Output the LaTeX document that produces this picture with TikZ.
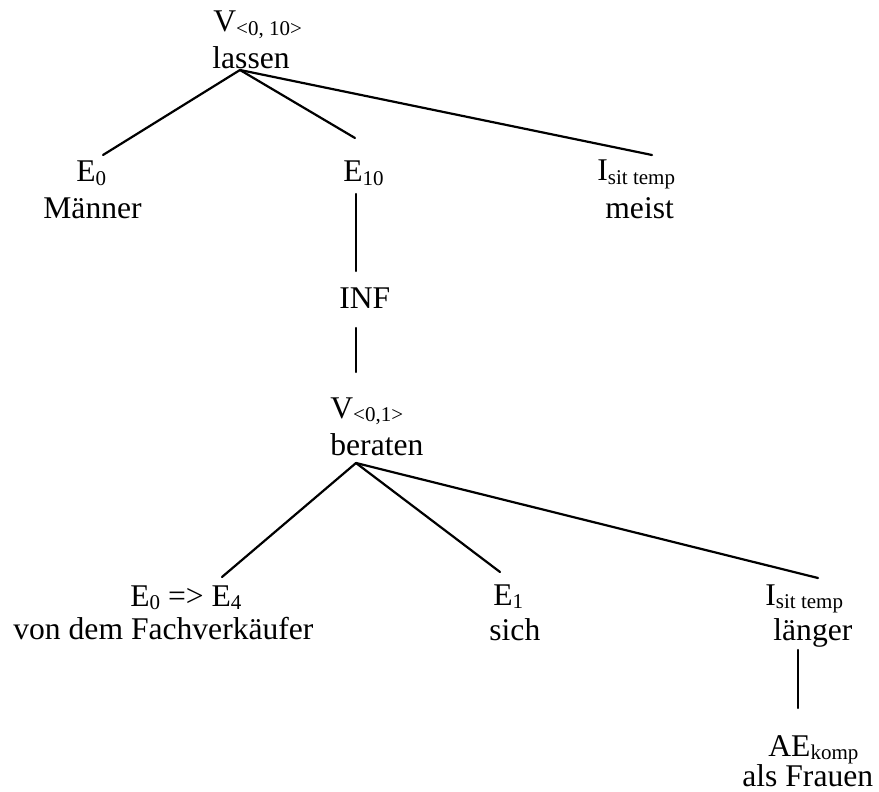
\documentclass[tikz,border=0pt]{standalone}
\usepackage{fontspec}
\setmainfont{Liberation Serif}
% lowered, smaller index text
\newcommand\lo[1]{\raisebox{-0.1em}{\fontsize{10.5}{12}\selectfont #1}}
\begin{document}
\begin{tikzpicture}[x=0.5pt,y=-0.5pt,
  lbl/.style={anchor=base west,inner sep=0pt,font=\fontsize{15.8}{19}\selectfont},
  edge/.style={line width=1.1pt,line cap=round}]
\useasboundingbox (0,0) rectangle (879,792);

% top verb
\node[lbl] (v1)      at (213,32)  {V\lo{<0, 10>}};
\node[lbl] (lassen)  at (212,69)  {lassen};
% first level
\node[lbl] (e0a)     at (76,182)  {E\lo{0}};
\node[lbl] (maenner) at (43,219)  {Männer};
\node[lbl] (e10)     at (343,182) {E\lo{10}};
\node[lbl] (isit1)   at (597,181) {I\lo{sit temp}};
\node[lbl] (meist)   at (605,219) {meist};
% infinitive
\node[lbl] (inf)     at (339,308) {INF};
\node[lbl] (v2)      at (330,418) {V\lo{<0,1>}};
\node[lbl] (beraten) at (330,455) {beraten};
% second level
\node[lbl] (e0b)     at (130,606) {E\lo{0} => E\lo{4}};
\node[lbl] (fach)    at (13,639)  {von dem Fachverkäufer};
\node[lbl] (e1)      at (493,605) {E\lo{1}};
\node[lbl] (sich)    at (489,640) {sich};
\node[lbl] (isit2)   at (765,605) {I\lo{sit temp}};
\node[lbl] (laenger) at (773,640) {länger};
\node[lbl] (ae)      at (768,756) {AE\lo{komp}};
\node[lbl] (frauen)  at (742,786) {als Frauen};

% attachment points of the branches
\coordinate (lassen-s) at (240,70);
\coordinate (e0a-n)    at (103,155);
\coordinate (e10-n)    at (355,138);
\coordinate (isit1-n)  at (652,155);
\coordinate (e10-s)    at (356,194);
\coordinate (inf-n)    at (356,271);
\coordinate (inf-s)    at (356,328);
\coordinate (v2-n)     at (356,372);
\coordinate (beraten-s) at (356,463);
\coordinate (e0b-n)    at (222,577);
\coordinate (e1-n)     at (500,572);
\coordinate (isit2-n)  at (818,578);
\coordinate (laenger-s) at (798,650);
\coordinate (ae-n)     at (798,708);

\draw[edge] (lassen-s) -- (e0a-n);
\draw[edge] (lassen-s) -- (e10-n);
\draw[edge] (lassen-s) -- (isit1-n);
\draw[edge] (e10-s) -- (inf-n);
\draw[edge] (inf-s) -- (v2-n);
\draw[edge] (beraten-s) -- (e0b-n);
\draw[edge] (beraten-s) -- (e1-n);
\draw[edge] (beraten-s) -- (isit2-n);
\draw[edge] (laenger-s) -- (ae-n);
\end{tikzpicture}
\end{document}
